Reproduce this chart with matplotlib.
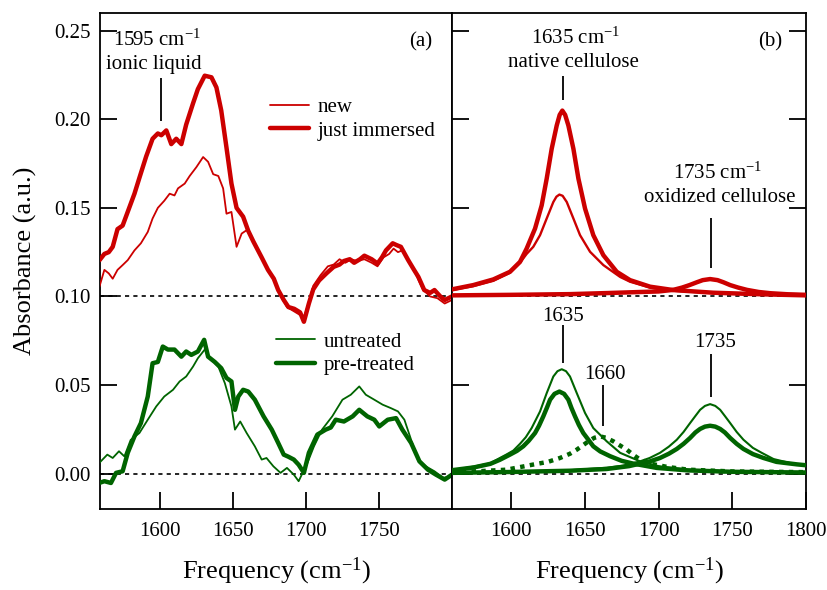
import matplotlib
matplotlib.use("Agg")
import matplotlib.pyplot as plt
from matplotlib.ticker import FormatStrFormatter, FixedLocator

plt.rcParams["font.family"] = ["Liberation Serif", "DejaVu Serif"]
plt.rcParams["mathtext.fontset"] = "custom"
plt.rcParams["mathtext.rm"] = "Liberation Serif"
plt.rcParams["mathtext.it"] = "Liberation Serif:italic"

RED = "#cc0000"
GREEN = "#006400"

# ---- (a) measured spectra ----
new_x = [1558.6, 1562, 1565, 1567.7, 1571, 1574.5, 1578, 1582.6, 1587, 1591.7, 1595, 1598.6,
         1603, 1606.7, 1610, 1612.4, 1617, 1620.4, 1625, 1629.6, 1633, 1636.5, 1640, 1643.3,
         1645.6, 1649, 1652.5, 1656, 1660.5, 1664, 1669.7, 1674, 1679, 1683, 1687, 1691, 1695,
         1698.6, 1702, 1705, 1710, 1715, 1719, 1723, 1727, 1731, 1735, 1740, 1745, 1749, 1753,
         1757, 1760, 1763, 1766, 1770, 1775, 1780, 1785, 1790, 1795, 1800]
new_y = [0.1055, 0.115, 0.113, 0.110, 0.115, 0.1177, 0.1205, 0.126, 0.130, 0.1364, 0.144, 0.150,
         0.154, 0.158, 0.157, 0.161, 0.1637, 0.168, 0.173, 0.1787, 0.176, 0.169, 0.168, 0.161,
         0.1467, 0.1477, 0.128, 0.1355, 0.138, 0.131, 0.122, 0.115, 0.108, 0.100, 0.094, 0.092,
         0.090, 0.088, 0.097, 0.106, 0.112, 0.117, 0.118, 0.121, 0.119, 0.121, 0.120, 0.121,
         0.119, 0.117, 0.122, 0.124, 0.127, 0.125, 0.126, 0.121, 0.113, 0.104, 0.100, 0.099,
         0.096, 0.098]

immersed_x = [1558.7, 1562, 1565, 1567.7, 1571, 1574.5, 1579, 1582.6, 1586, 1590.6, 1595, 1598.6,
              1601, 1604.4, 1607.8, 1611.2, 1614.7, 1618, 1622.7, 1626, 1630.7, 1635.3, 1638.7,
              1642, 1645.6, 1649, 1652.5, 1657, 1660.5, 1664, 1669.7, 1674, 1678, 1681, 1684.8,
              1688, 1692, 1696, 1698.6, 1702, 1705, 1709, 1714, 1719, 1723, 1726, 1730, 1733,
              1737, 1740, 1745, 1749, 1752, 1754.8, 1759.4, 1762, 1765, 1770, 1774, 1777, 1781,
              1785, 1788, 1792, 1795, 1800]
immersed_y = [0.1205, 0.124, 0.125, 0.128, 0.138, 0.140, 0.150, 0.158, 0.167, 0.179, 0.189, 0.192,
              0.191, 0.1937, 0.186, 0.189, 0.186, 0.197, 0.209, 0.217, 0.2246, 0.2237, 0.218,
              0.205, 0.184, 0.1637, 0.150, 0.145, 0.137, 0.131, 0.122, 0.115, 0.110, 0.1036,
              0.098, 0.094, 0.093, 0.091, 0.0857, 0.096, 0.104, 0.109, 0.113, 0.1167, 0.118,
              0.120, 0.121, 0.119, 0.121, 0.123, 0.121, 0.1186, 0.122, 0.126, 0.130, 0.129,
              0.128, 0.1205, 0.115, 0.111, 0.1036, 0.102, 0.1036, 0.100, 0.098, 0.100]

untreated_x = [1558.5, 1564, 1567.7, 1572, 1575.7, 1580, 1586, 1591.7, 1597.5, 1603, 1609, 1613.5,
               1618, 1622.7, 1626, 1630.7, 1635.3, 1640, 1644.5, 1649, 1651.4, 1655, 1659.4,
               1665, 1669.7, 1673, 1677.7, 1682.6, 1687, 1691.7, 1695, 1701, 1705.5, 1711, 1718,
               1725, 1730.7, 1736.5, 1741, 1746.8, 1752.5, 1758, 1763, 1767.4, 1772, 1776.6,
               1782, 1788, 1794, 1800]
untreated_y = [0.006, 0.0107, 0.0088, 0.0126, 0.0097, 0.019, 0.0229, 0.0304, 0.0379, 0.0435,
               0.0473, 0.052, 0.0548, 0.0604, 0.0651, 0.070, 0.0642, 0.0604, 0.051, 0.0379,
               0.0248, 0.0294, 0.0229, 0.0154, 0.0079, 0.0088, 0.0041, 0.0004, 0.0032, -0.0006,
               -0.0043, 0.006, 0.0154, 0.0248, 0.0323, 0.0417, 0.0445, 0.0492, 0.0445, 0.0417,
               0.0389, 0.037, 0.0351, 0.0304, 0.0191, 0.0079, 0.0041, 0.0013, -0.0024, -0.0015]

pretreated_x = [1558.5, 1562, 1566.5, 1570, 1574.5, 1578, 1582.6, 1587, 1591.7, 1595, 1598.6,
                1602, 1605.5, 1610, 1614.7, 1618, 1621.5, 1626, 1630.3, 1633, 1637.6, 1642,
                1645.6, 1649, 1651.4, 1653.7, 1657, 1660.5, 1665, 1671, 1676.6, 1681, 1684.8,
                1688, 1691.7, 1695, 1698.6, 1702, 1707.8, 1713.5, 1717, 1720.4, 1726, 1732,
                1736.5, 1742, 1746.8, 1750.2, 1756, 1761.7, 1766, 1772, 1777.7, 1783.5, 1789,
                1795, 1800]
pretreated_y = [-0.0053, -0.0043, -0.0053, 0.0004, 0.0013, 0.0117, 0.021, 0.0285, 0.0435, 0.0623,
                0.063, 0.0717, 0.070, 0.070, 0.066, 0.0689, 0.067, 0.0689, 0.0755, 0.066, 0.063,
                0.0595, 0.054, 0.052, 0.036, 0.0435, 0.0473, 0.0463, 0.0417, 0.0323, 0.0248,
                0.0173, 0.0107, 0.0095, 0.0079, 0.005, 0.0004, 0.0117, 0.022, 0.0248, 0.026,
                0.0304, 0.0294, 0.0323, 0.036, 0.0323, 0.0304, 0.0266, 0.0304, 0.0313, 0.0248,
                0.0173, 0.0069, 0.0022, -0.0006, -0.0034, -0.0006]

# ---- (b) fitted band components ----
fit_immersed_1635_x = [1560, 1574.4, 1588, 1599.3, 1606.1, 1610.6, 1616.3, 1620.8, 1624.2, 1627.6,
                       1631, 1633, 1634.8, 1636.7, 1638.9, 1642.3, 1645.7, 1650.2, 1655.8, 1662.6,
                       1671.7, 1680.7, 1694.3, 1710, 1737, 1770, 1800]
fit_immersed_1635_y = [0.104, 0.1064, 0.1096, 0.1139, 0.1195, 0.127, 0.1383, 0.1514, 0.1665,
                       0.1834, 0.1965, 0.2025, 0.2049, 0.2025, 0.1965, 0.1834, 0.1665, 0.1496,
                       0.1346, 0.1233, 0.1139, 0.1092, 0.1055, 0.1036, 0.1021, 0.1012, 0.1006]

fit_new_1635_x = [1560, 1574.4, 1588, 1599.3, 1606.1, 1610.6, 1615.1, 1619.7, 1624.2, 1628.7,
                  1630.8, 1632.8, 1635, 1637.8, 1642.3, 1646.8, 1653.6, 1662.6, 1674, 1680.7,
                  1694.3, 1710, 1737, 1770, 1800]
fit_new_1635_y = [0.1036, 0.1058, 0.1088, 0.1134, 0.119, 0.124, 0.128, 0.1346, 0.144, 0.1533,
                  0.1563, 0.1575, 0.1568, 0.1533, 0.144, 0.1346, 0.1252, 0.1177, 0.111, 0.1083,
                  0.1050, 0.1032, 0.1019, 0.1011, 0.1006]

fit_1735_x = [1560, 1600, 1640, 1665, 1687.5, 1700, 1710, 1716, 1721, 1726, 1730, 1735, 1740,
              1744, 1748.6, 1754, 1760, 1768, 1776, 1788, 1800]
fit_1735_y = [0.1006, 0.1009, 0.1013, 0.1019, 0.1025, 0.1028, 0.1037, 0.105, 0.1064,
              0.108, 0.1092, 0.1098, 0.1092, 0.108, 0.1064, 0.105, 0.1037, 0.1025, 0.1018,
              0.1012, 0.1009]

fit_untreated_1635_x = [1560, 1575, 1586, 1592.5, 1597, 1601.6, 1606.1, 1610, 1614, 1619.7, 1624.2,
                        1628.7, 1631.5, 1634.4, 1637.3, 1640, 1644.6, 1650.2, 1655.8, 1664.9, 1674,
                        1687.5, 1700, 1720, 1750, 1800]
fit_untreated_1635_y = [0.0019, 0.004, 0.0058, 0.0088, 0.0108, 0.013, 0.0168, 0.0205, 0.0257,
                        0.0351, 0.0454, 0.0548, 0.0578, 0.0589, 0.0578, 0.0548, 0.0454, 0.0342,
                        0.0257, 0.0182, 0.0117, 0.0069, 0.0042, 0.0022, 0.0012, 0.0006]

fit_pretreated_1635_x = [1560, 1575, 1586, 1592.5, 1599.3, 1604, 1608.3, 1612, 1616.3, 1619, 1621.9,
                         1624.5, 1626.5, 1629.5, 1632.8, 1636, 1638.9, 1641, 1643.4, 1646, 1649,
                         1655.8, 1660.5, 1667.2, 1675, 1683, 1698.8, 1720, 1750, 1800]
fit_pretreated_1635_y = [0.0019, 0.0035, 0.0055, 0.0078, 0.0107, 0.0128, 0.0154, 0.0185, 0.0229,
                         0.027, 0.0323, 0.0375, 0.0417, 0.045, 0.0463, 0.045, 0.0417, 0.037,
                         0.0323, 0.0275, 0.0229, 0.0154, 0.0125, 0.0098, 0.0072, 0.0056, 0.0032,
                         0.0018, 0.001, 0.0006]

fit_1660_x = [1560, 1580, 1597, 1615.1, 1625, 1633.2, 1640, 1644.6, 1648.5, 1652.5, 1656.5,
              1660.4, 1664.5, 1669.4, 1674, 1678.5, 1683, 1687.5, 1695, 1705.6, 1720, 1750, 1800]
fit_1660_y = [0.0009, 0.0014, 0.0022, 0.0051, 0.0066, 0.0088, 0.0112, 0.0135, 0.0158, 0.0182,
              0.0202, 0.021, 0.0202, 0.0182, 0.0158, 0.0135, 0.0105, 0.0079, 0.0055, 0.0038,
              0.0022, 0.0012, 0.0008]

fit_untreated_1735_x = [1560, 1600, 1640, 1665, 1676, 1687.5, 1694, 1701, 1707, 1712.4, 1717,
                        1721.4, 1725, 1728.2, 1731.5, 1735, 1738.5, 1741.8, 1745, 1748.6, 1753,
                        1757.6, 1764, 1770, 1778, 1790, 1800]
fit_untreated_1735_y = [0.0007, 0.0011, 0.0019, 0.0033, 0.0045, 0.0069, 0.0088, 0.0117, 0.0152,
                        0.0191, 0.0235, 0.0285, 0.0325, 0.036, 0.0382, 0.0392, 0.0382, 0.036,
                        0.0325, 0.0285, 0.0235, 0.0191, 0.0145, 0.0117, 0.0082, 0.0058, 0.0045]

fit_pretreated_1735_x = [1560, 1600, 1640, 1665, 1680, 1694.3, 1701, 1707, 1712.4, 1717, 1721.4,
                         1725, 1728.2, 1731.5, 1735, 1738.5, 1741.8, 1745, 1748.6, 1753, 1757.6,
                         1764, 1771.2, 1780, 1793.8, 1800]
fit_pretreated_1735_y = [0.0004, 0.0009, 0.0016, 0.0026, 0.0042, 0.0069, 0.0088, 0.0112, 0.0139,
                         0.0168, 0.0201, 0.0232, 0.0252, 0.0265, 0.027, 0.0265, 0.0252, 0.0232,
                         0.0201, 0.0168, 0.0139, 0.011, 0.0088, 0.0066, 0.0052, 0.0047]

y_ticks = [0.00, 0.05, 0.10, 0.15, 0.20, 0.25]
x_ticks_a = [1600, 1650, 1700, 1750]
x_ticks_b = [1600, 1650, 1700, 1750, 1800]
baselines = [0.10, 0.00]

THIN = 1.3
THICK = 3.2
FS = 15

fig = plt.figure(figsize=(8.27, 5.90), dpi=100)
ax_a = fig.add_axes([100 / 827, 1 - 509 / 590, 352 / 827, 496 / 590])
ax_b = fig.add_axes([452 / 827, 1 - 509 / 590, 354 / 827, 496 / 590], sharey=ax_a)

for ax in (ax_a, ax_b):
    for yb in baselines:
        ax.axhline(yb, color="black", lw=1.2, ls=(0, (2.5, 2.5)), zorder=1)
    for sp in ax.spines.values():
        sp.set_linewidth(1.3)
    ax.tick_params(direction="in", length=12, width=1.3, labelsize=FS, pad=8)

# panel (a)
kw = dict(solid_joinstyle="round", solid_capstyle="round", zorder=3)
ax_a.plot(new_x, new_y, color=RED, lw=THIN, label="new", **kw)
ax_a.plot(immersed_x, immersed_y, color=RED, lw=THICK, label="just immersed", **kw)
ax_a.plot(untreated_x, untreated_y, color=GREEN, lw=THIN, label="untreated", **kw)
ax_a.plot(pretreated_x, pretreated_y, color=GREEN, lw=THICK, label="pre-treated", **kw)

# panel (b)
ax_b.plot(fit_new_1635_x, fit_new_1635_y, color=RED, lw=THIN + 0.4, **kw)
ax_b.plot(fit_immersed_1635_x, fit_immersed_1635_y, color=RED, lw=THICK, **kw)
ax_b.plot(fit_1735_x, fit_1735_y, color=RED, lw=THICK, **kw)
ax_b.plot(fit_untreated_1635_x, fit_untreated_1635_y, color=GREEN, lw=THIN + 0.2, **kw)
ax_b.plot(fit_pretreated_1635_x, fit_pretreated_1635_y, color=GREEN, lw=THICK, **kw)
ax_b.plot(fit_untreated_1735_x, fit_untreated_1735_y, color=GREEN, lw=THIN + 0.2, **kw)
ax_b.plot(fit_pretreated_1735_x, fit_pretreated_1735_y, color=GREEN, lw=THICK, **kw)
ax_b.plot(fit_1660_x, fit_1660_y, color=GREEN, lw=THICK, ls=(0, (1, 1.2)), zorder=3)

ax_a.set_xlim(1559, 1800)
ax_b.set_xlim(1560, 1800)
ax_a.set_ylim(-0.02, 0.26)
ax_a.yaxis.set_major_locator(FixedLocator(y_ticks))
ax_a.yaxis.set_major_formatter(FormatStrFormatter("%.2f"))
ax_a.xaxis.set_major_locator(FixedLocator(x_ticks_a))
ax_b.xaxis.set_major_locator(FixedLocator(x_ticks_b))
ax_a.tick_params(axis="y", left=True, right=False, pad=7)
ax_b.tick_params(axis="y", left=True, right=True, labelleft=False)
for ax in (ax_a, ax_b):
    ax.tick_params(axis="x", top=False, pad=9)

xlabel = "Frequency (cm$^{-1}$)"
ax_a.set_xlabel(xlabel, fontsize=19, labelpad=11)
ax_b.set_xlabel(xlabel, fontsize=19, labelpad=11)
ax_a.set_ylabel("Absorbance (a.u.)", fontsize=19, labelpad=12)

# band markers
mk = dict(color="black", lw=1.3, zorder=4)
ax_a.vlines(1601, 0.1993, 0.2235, **mk)
ax_a.text(1598, 0.2415, "1595 cm$^{-1}$", ha="center", va="baseline", fontsize=FS)
ax_a.text(1596, 0.2284, "ionic liquid", ha="center", va="baseline", fontsize=FS)

ax_b.vlines(1635, 0.211, 0.2246, **mk)
ax_b.text(1644, 0.2425, "1635 cm$^{-1}$", ha="center", va="baseline", fontsize=FS)
ax_b.text(1642.3, 0.2297, "native cellulose", ha="center", va="baseline", fontsize=FS)

ax_b.vlines(1735.5, 0.116, 0.144, **mk)
ax_b.text(1740, 0.1665, "1735 cm$^{-1}$", ha="center", va="baseline", fontsize=FS)
ax_b.text(1741.8, 0.1533, "oxidized cellulose", ha="center", va="baseline", fontsize=FS)

ax_b.vlines(1635, 0.0623, 0.0839, **mk)
ax_b.text(1635, 0.0862, "1635", ha="center", va="baseline", fontsize=FS)
ax_b.vlines(1662.6, 0.0266, 0.050, **mk)
ax_b.text(1663.4, 0.0534, "1660", ha="center", va="baseline", fontsize=FS)
ax_b.vlines(1735.5, 0.0432, 0.0675, **mk)
ax_b.text(1738.7, 0.0712, "1735", ha="center", va="baseline", fontsize=FS)

ax_a.text(0.943, 0.933, "(a)", transform=ax_a.transAxes, ha="right", va="baseline", fontsize=FS)
ax_b.text(0.932, 0.932, "(b)", transform=ax_b.transAxes, ha="right", va="baseline", fontsize=FS)

# legends
handles, labels = ax_a.get_legend_handles_labels()
leg_kw = dict(frameon=False, fontsize=FS, handlelength=1.85, handletextpad=0.45,
              labelspacing=0.2, borderpad=0, borderaxespad=0, loc="upper left")
leg1 = ax_a.legend(handles[:2], labels[:2], bbox_to_anchor=(0.483, 0.83), **leg_kw)
ax_a.add_artist(leg1)
ax_a.legend(handles[2:], labels[2:], bbox_to_anchor=(0.5, 0.357), **leg_kw)

fig.savefig("out.png", dpi=100)
